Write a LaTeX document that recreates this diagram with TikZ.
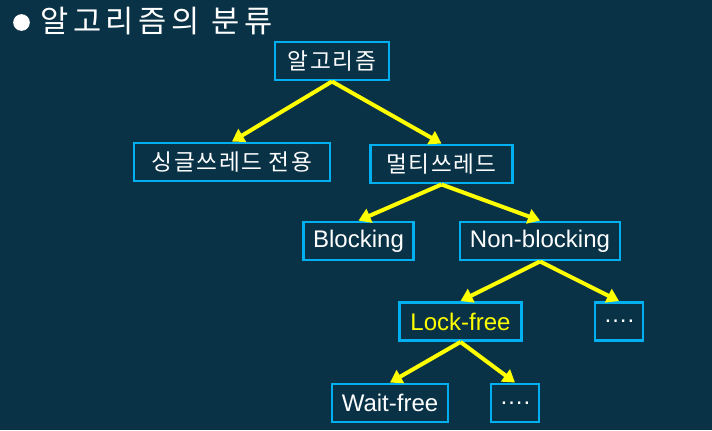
\documentclass[tikz,border=0pt]{standalone}
\usepackage{fontspec}
\setmainfont{Liberation Sans}
\newfontfamily\kr[LetterSpace=7]{Noto Sans CJK KR}
\newfontfamily\krtitle[LetterSpace=15]{Noto Sans CJK KR}
\usetikzlibrary{arrows.meta, positioning}
\definecolor{slidebg}{RGB}{9,50,70}
\definecolor{boxline}{RGB}{0,176,240}
\definecolor{arrowyellow}{RGB}{255,255,0}

\begin{document}
\begin{tikzpicture}[x=0.75pt, y=-0.75pt,
  algbox/.style={rectangle, draw=boxline, line width=2.2pt, minimum height=28.5pt,
    inner xsep=6pt, text=white, font=\fontsize{18}{20}\selectfont},
  krbox/.style={algbox, font=\kr\fontsize{17}{20}\selectfont},
  branch/.style={draw=arrowyellow, line width=3pt,
    -{Triangle[length=9pt, width=11pt]}}]
  \fill[slidebg] (0,0) rectangle (712,430);
  \useasboundingbox (0,0) rectangle (712,430);

  \node[circle, fill=white, inner sep=0pt, minimum size=12.5pt] (dot) at (21.5,22.5) {};
  \node[right, inner sep=0pt, text=white, font=\krtitle\fontsize{23}{26}\selectfont]
    (title) at (40,21) {알고리즘의 분류};

  \node[krbox, minimum width=85.5pt] (algo) at (332,61) {알고리즘};
  \node[krbox, minimum width=147pt] (single) at (232,162) {싱글쓰레드 전용};
  \node[krbox, minimum width=106pt] (multi) at (441.5,164) {멀티쓰레드};
  \node[algbox, minimum width=83pt] (block) at (358.5,241) {Blocking};
  \node[algbox, minimum width=120pt] (nonblock) at (540,241) {Non-blocking};
  \node[algbox, minimum width=91pt, text=arrowyellow] (lockfree) at (460.5,321.5) {Lock-free};
  \node[algbox, minimum width=36pt] (etc1) at (619,321.5) {….};
  \node[algbox, minimum width=87pt] (waitfree) at (390,403) {Wait-free};
  \node[algbox, minimum width=36pt] (etc2) at (515,403) {….};

  \draw[branch] (algo.south) -- (single.north);
  \draw[branch] (algo.south) -- (multi.north);
  \draw[branch] (multi.south) -- (block.north);
  \draw[branch] (multi.south) -- (nonblock.north);
  \draw[branch] (nonblock.south) -- (lockfree.north);
  \draw[branch] (nonblock.south) -- (etc1.north);
  \draw[branch] (lockfree.south) -- (waitfree.north);
  \draw[branch] (lockfree.south) -- (etc2.north);
\end{tikzpicture}
\end{document}
